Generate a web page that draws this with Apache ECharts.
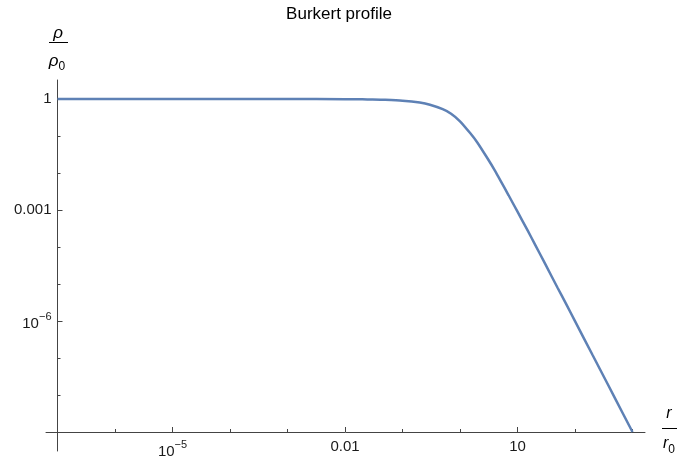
<!DOCTYPE html>
<html>
<head>
<meta charset="utf-8">
<script src="https://cdn.jsdelivr.net/npm/echarts@6/dist/echarts.min.js"></script>
<style>
  html, body { margin: 0; padding: 0; background: #fff; }
  #chart { width: 678px; height: 459px; }
</style>
</head>
<body>
<div id="chart"></div>
<script>
// Burkert density profile: rho/rho0 against r/r0, both on log scales
const radius = [1e-7, 1e-5, 1e-3, 0.01, 0.02, 0.03, 0.05, 0.1, 0.2, 0.3, 0.5, 0.7, 1, 1.5, 2, 3, 4, 5, 7, 10, 15, 20, 30, 50, 70, 100, 200, 300, 500, 1000];
const density = [1, 1, 1, 0.99, 0.98, 0.97, 0.95, 0.90, 0.80, 0.70, 0.53, 0.40, 0.25, 0.12, 0.067, 0.025, 0.012, 0.0064, 0.0025, 9.0e-4, 2.8e-4, 1.2e-4, 3.6e-5, 7.8e-6, 2.9e-6, 9.9e-7, 1.24e-7, 3.7e-8, 8.0e-9, 1.0e-9];

// decade exponents for ticks
const xDecades = [-7, -6, -5, -4, -3, -2, -1, 0, 1, 2, 3];
const yDecades = [-9, -8, -7, -6, -5, -4, -3, -2, -1, 0];
const xMajor = [-5, -2, 1];
const yMajor = [-6, -3, 0];

const FONT = 'Liberation Sans, Arial, sans-serif';
const AXIS_COLOR = '#444';
const LABEL_COLOR = '#1a1a1a';

function decadeLabel(e) {
  if (e === 0) return '1';
  if (e > 0) return String(Math.pow(10, e));
  if (e >= -3) return '0.' + '0'.repeat(-e - 1) + '1';
  return '{b|10}{s|\u2212' + (-e) + '}';
}

const richLabel = {
  b: { fontSize: 15, fontFamily: FONT, color: LABEL_COLOR, lineHeight: 20, verticalAlign: 'bottom' },
  s: { fontSize: 11, fontFamily: FONT, color: LABEL_COLOR, lineHeight: 11, verticalAlign: 'top' }
};

const curve = radius.map((r, i) => [Math.log10(r), Math.log10(density[i])]);

const hidden = { show: false };

const option = {
  backgroundColor: '#fff',
  animation: false,
  title: {
    text: 'Burkert profile',
    left: 'center',
    top: 1,
    textStyle: { fontFamily: FONT, fontSize: 17, fontWeight: 'normal', color: '#000' }
  },
  grid: [
    // data area, one decade per tick
    { left: 57.5, top: 99, width: 575, height: 333, outerBoundsMode: 'none', containLabel: false },
    // horizontal axis line with padding on both ends
    { left: 46, top: 99, width: 599, height: 333, outerBoundsMode: 'none', containLabel: false },
    // vertical axis line with padding on both ends
    { left: 57.5, top: 80, width: 575, height: 371, outerBoundsMode: 'none', containLabel: false }
  ],
  xAxis: [
    {
      gridIndex: 0, type: 'value', min: -7, max: 3, position: 'bottom',
      axisLine: { show: false, onZero: false },
      axisTick: { show: true, inside: true, length: 3, customValues: xDecades, lineStyle: { color: AXIS_COLOR, width: 1 } },
      axisLabel: { show: false },
      splitLine: hidden
    },
    {
      gridIndex: 0, type: 'value', min: -7, max: 3, position: 'bottom',
      axisLine: { show: false, onZero: false },
      axisTick: { show: true, inside: true, length: 5, customValues: xMajor, lineStyle: { color: AXIS_COLOR, width: 1 } },
      axisLabel: {
        show: true, customValues: xMajor, margin: 7,
        fontFamily: FONT, fontSize: 15, color: LABEL_COLOR,
        formatter: v => decadeLabel(Math.round(v)),
        rich: richLabel
      },
      splitLine: hidden
    },
    {
      gridIndex: 1, type: 'value', min: 0, max: 1, position: 'bottom',
      axisLine: { show: true, onZero: false, lineStyle: { color: AXIS_COLOR, width: 1 } },
      axisTick: hidden, axisLabel: hidden, splitLine: hidden
    },
    {
      gridIndex: 2, type: 'value', min: 0, max: 1,
      axisLine: { show: false, onZero: false }, axisTick: hidden, axisLabel: hidden, splitLine: hidden
    }
  ],
  yAxis: [
    {
      gridIndex: 0, type: 'value', min: -9, max: 0, position: 'left',
      axisLine: { show: false, onZero: false },
      axisTick: { show: true, inside: true, length: 3, customValues: yDecades, lineStyle: { color: AXIS_COLOR, width: 1 } },
      axisLabel: { show: false },
      splitLine: hidden
    },
    {
      gridIndex: 0, type: 'value', min: -9, max: 0, position: 'left',
      axisLine: { show: false, onZero: false },
      axisTick: { show: true, inside: true, length: 5, customValues: yMajor, lineStyle: { color: AXIS_COLOR, width: 1 } },
      axisLabel: {
        show: true, customValues: yMajor, margin: 6,
        fontFamily: FONT, fontSize: 15, color: LABEL_COLOR,
        formatter: v => decadeLabel(Math.round(v)),
        rich: richLabel
      },
      splitLine: hidden
    },
    {
      gridIndex: 1, type: 'value', min: 0, max: 1,
      axisLine: { show: false, onZero: false }, axisTick: hidden, axisLabel: hidden, splitLine: hidden
    },
    {
      gridIndex: 2, type: 'value', min: 0, max: 1, position: 'left',
      axisLine: { show: true, onZero: false, lineStyle: { color: AXIS_COLOR, width: 1 } },
      axisTick: hidden, axisLabel: hidden, splitLine: hidden
    }
  ],
  series: [
    {
      type: 'line',
      xAxisIndex: 0,
      yAxisIndex: 0,
      data: curve,
      smooth: 0.25,
      showSymbol: false,
      clip: false,
      lineStyle: { color: '#5E81B5', width: 2.5 }
    }
  ],
  graphic: [
    // axis name for the vertical axis: rho / rho0
    { type: 'text', x: 58, y: 33, style: { text: 'ρ', font: 'italic 17px ' + FONT, fill: '#000', align: 'center', verticalAlign: 'middle' } },
    { type: 'line', shape: { x1: 49, y1: 42.5, x2: 68, y2: 42.5 }, style: { stroke: '#000', lineWidth: 1 } },
    {
      type: 'text', x: 57, y: 63,
      style: {
        text: '{i|ρ}{s|0}', align: 'center', verticalAlign: 'middle',
        rich: {
          i: { font: 'italic 17px ' + FONT, fill: '#000', lineHeight: 20, verticalAlign: 'top' },
          s: { font: '12px ' + FONT, fill: '#000', lineHeight: 20, verticalAlign: 'bottom', padding: [6, 0, 0, 0] }
        }
      }
    },
    // axis name for the horizontal axis: r / r0
    { type: 'text', x: 669, y: 414, style: { text: 'r', font: 'italic 16px ' + FONT, fill: '#000', align: 'center', verticalAlign: 'middle' } },
    { type: 'line', shape: { x1: 662, y1: 428.5, x2: 677, y2: 428.5 }, style: { stroke: '#000', lineWidth: 1 } },
    {
      type: 'text', x: 669, y: 446,
      style: {
        text: '{i|r}{s|0}', align: 'center', verticalAlign: 'middle',
        rich: {
          i: { font: 'italic 16px ' + FONT, fill: '#000', lineHeight: 20, verticalAlign: 'top' },
          s: { font: '12px ' + FONT, fill: '#000', lineHeight: 20, verticalAlign: 'bottom', padding: [6, 0, 0, 0] }
        }
      }
    }
  ]
};

const chart = echarts.init(document.getElementById('chart'), null, { renderer: 'canvas' });
chart.setOption(option);
</script>
</body>
</html>
